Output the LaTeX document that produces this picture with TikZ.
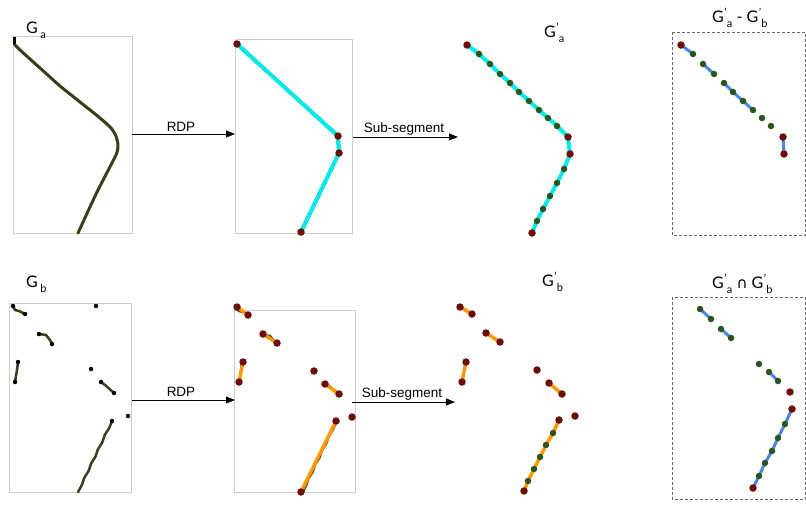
\documentclass[tikz,border=0pt]{standalone}
\usepackage{fontspec}
\setmainfont{Liberation Sans}
\newfontfamily\gfont{Lato}
\newfontfamily\djv{DejaVu Sans}
\usetikzlibrary{arrows.meta}
\definecolor{dred}{RGB}{105,15,8}
\definecolor{dgreen}{RGB}{42,85,28}
\definecolor{olivec}{RGB}{58,62,26}
\definecolor{cyanl}{RGB}{0,235,235}
\definecolor{orng}{RGB}{255,153,0}
\definecolor{blu}{RGB}{74,134,232}
\definecolor{boxgray}{RGB}{205,205,205}
\newcommand{\Gn}[1]{G\kern2.5pt\raisebox{-5pt}{\fontsize{11}{11}\selectfont #1}}
\newcommand{\Gp}[1]{G\kern0.6pt\rlap{\raisebox{6pt}{\fontsize{11}{11}\selectfont ’}}\kern2.5pt\raisebox{-5pt}{\fontsize{11}{11}\selectfont #1}}
\tikzset{
  panelbox/.style={draw=boxgray, line width=0.8pt},
  dashbox/.style={draw=black!60, line width=0.8pt, dash pattern=on 3pt off 2pt},
  rdot/.style={circle, fill=dred, inner sep=0pt, minimum size=7.5pt},
  gdot/.style={circle, fill=dgreen, inner sep=0pt, minimum size=6.5pt},
  bdot/.style={circle, fill=black, inner sep=0pt, minimum size=4.5pt},
  curve/.style={draw=olivec, line width=3pt, line cap=round, line join=round},
  cyanline/.style={draw=cyanl, line width=4pt},
  orline/.style={draw=orng, line width=3.5pt},
  blline/.style={draw=blu, line width=3pt},
  arr/.style={draw=black, line width=1pt, -{Triangle[length=9pt,width=7pt]}},
  glabel/.style={font=\gfont\fontsize{16}{18}\selectfont, anchor=base west, inner sep=0pt},
  alabel/.style={font=\fontsize{13.5}{15}\selectfont, anchor=base, inner sep=0pt}
}
\begin{document}
\begin{tikzpicture}[x=1pt,y=-1pt]
\useasboundingbox (0,0) rectangle (806,504);
% ---------- top row ----------
\draw[panelbox] (13,36) rectangle (132,233);
\draw[panelbox] (235,39) rectangle (352,233);
\draw[dashbox] (672,32) rectangle (805.5,235);
\node[glabel] (la) at (26,33) {\Gn{a}};
\node[glabel] (lpa) at (544,37) {\Gp{a}};
\node[glabel] (ldiff) at (712,22) {\Gp{a} - \Gp{b}};
% original curve
\draw[line width=2.5pt, black] (14.5,37) -- (14.5,45);
\draw[curve] plot[smooth, tension=0.35] coordinates {(15,45) (20,50) (40,68) (60,86) (80,102) (100,118) (111,128) (116,136) (118,145) (116,155) (97,192) (78,233)};
% RDP result
\foreach \n/\x/\y in {p2a/237/44, p2b/338/136, p2c/339/153, p2d/301/232}
  \coordinate (\n) at (\x,\y);
\begin{scope}[shift={(1.3,-0.9)}]
\draw[curve, line width=3.5pt, rounded corners=3pt] (p2a) -- (p2b) -- (p2c) -- (p2d);
\end{scope}
\draw[cyanline] (p2a) -- (p2b) -- (p2c) -- (p2d);
\foreach \n in {p2a,p2b,p2c,p2d} \node[rdot] (d\n) at (\n) {};
% arrows top
\coordinate (a1s) at (132,134); \coordinate (a1e) at (235,134);
\draw[arr] (a1s) -- (a1e);
\node[alabel] (t1) at (181,131) {RDP};
\coordinate (a2s) at (353,137); \coordinate (a2e) at (458,137);
\draw[arr] (a2s) -- (a2e);
\node[alabel] (t2) at (404,132) {Sub-segment};
% sub-segmented G'_a
\foreach \n/\x/\y in {q1/467/45, q2/479/54, q3/490/64, q4/500/74, q5/510/83, q6/519/92, q7/529/101, q8/539/110, q9/548/118, q10/557/126, q11/568/137, q12/570/154, q13/564/169, q14/557/183, q15/550/196, q16/543/209, q17/537/221, q18/532/233}
  \coordinate (\n) at (\x,\y);
\draw[cyanline] (q1) \foreach \i in {2,...,18} { -- (q\i) };
\foreach \i in {1,11,12,18} \node[rdot] (dq\i) at (q\i) {};
\foreach \i in {2,...,10,13,14,15,16,17} \node[gdot] (dq\i) at (q\i) {};
% difference panel
\foreach \n/\x/\y in {r1/681/45, r2/693/54, r3/703/64, r4/714/74, r5/724/83, r6/733/92, r7/743/101, r8/753/110, r9/762/118, r10/771/126, r11/783/137, r12/784/154}
  \coordinate (\n) at (\x,\y);
\draw[blline] (r1) -- (r2);
\draw[blline] (r3) -- (r4);
\draw[blline] (r5) -- (r6) -- (r7) -- (r8);
\draw[blline] (r11) -- (r12);
\foreach \i in {1,11,12} \node[rdot] (dr\i) at (r\i) {};
\foreach \i in {2,...,10} \node[gdot] (dr\i) at (r\i) {};
% ---------- bottom row ----------
\draw[panelbox] (9,303) rectangle (131,492);
\draw[panelbox] (234,310) rectangle (355,492);
\draw[dashbox] (672,297) rectangle (805.5,499);
\node[glabel] (lb) at (26,287) {\Gn{b}};
\node[glabel] (lpb) at (542,286) {\Gp{b}};
\node[glabel] (linter) at (712,288) {\Gp{a} {\djv\fontsize{15}{17}\selectfont ∩} \Gp{b}};
% original fragments
\draw[curve, line width=2.5pt] (13,306) -- (15,310) -- (19,311) -- (25,314);
\draw[curve, line width=2.5pt] (39,334) -- (46,335) -- (50,340) -- (52,344);
\draw[curve, line width=2.5pt] (18,362) -- (17,370) -- (15,382);
\draw[curve, line width=2.5pt] (101,382) -- (105,385) -- (114,393);
\draw[curve, line width=2.5pt] plot[smooth, tension=0.3] coordinates {(112,421) (109,428.3) (104.8,435) (102.2,442.5) (98,449.2) (95.4,456.7) (91.2,463.4) (88.6,470.9) (84.4,477.6) (81.8,485.1) (78,492)};
\foreach \n/\x/\y in {b1/13/306, b2/25/314, b3/39/334, b4/52/344, b5/18/362, b6/15/382, b7/101/382, b8/114/393, b9/112/421, b10/96/306, b11/91/369, b12/128/416}
  \node[bdot] (\n) at (\x,\y) {};
% RDP result bottom
\begin{scope}[shift={(224,1)}]
\draw[curve, line width=2.5pt] (13,306) -- (15,310) -- (19,311) -- (25,314);
\draw[curve, line width=2.5pt] (39,334) -- (46,335) -- (50,340) -- (52,344);
\draw[curve, line width=2.5pt] (18,362) -- (17,370) -- (15,382);
\draw[curve, line width=2.5pt] (101,382) -- (105,385) -- (114,393);
\draw[curve, line width=2.5pt] plot[smooth, tension=0.3] coordinates {(112,421) (109,428.3) (104.8,435) (102.2,442.5) (98,449.2) (95.4,456.7) (91.2,463.4) (88.6,470.9) (84.4,477.6) (81.8,485.1) (78,492)};
\end{scope}
\foreach \n/\x/\y in {s1/237/307, s2/248/315, s3/263/334, s4/277/343, s5/243/362, s6/239/382, s7/314/371, s8/325/384, s9/339/394, s10/352/417, s11/336/421, s12/301/492}
  \coordinate (\n) at (\x,\y);
\draw[orline] (s1) -- (s2);
\draw[orline] (s3) -- (s4);
\draw[orline] (s5) -- (s6);
\draw[orline] (s8) -- (s9);
\draw[orline] (s11) -- (s12);
\foreach \i in {1,...,12} \node[rdot] (ds\i) at (s\i) {};
% arrows bottom
\coordinate (a3s) at (132,400); \coordinate (a3e) at (235,400);
\draw[arr] (a3s) -- (a3e);
\node[alabel] (t3) at (181,396) {RDP};
\coordinate (a4s) at (352,402); \coordinate (a4e) at (455,402);
\draw[arr] (a4s) -- (a4e);
\node[alabel] (t4) at (402,397) {Sub-segment};
% sub-segmented G'_b
\foreach \n/\x/\y in {u1/460/307, u2/472/314, u3/486/333, u4/500/342, u5/466/362, u6/462/382, u7/537/370, u8/549/383, u9/562/394, u10/575/416, u11/559/420, u12/553/433, u13/546/445, u14/540/457, u15/534/469, u16/528/481, u17/524/491}
  \coordinate (\n) at (\x,\y);
\draw[orline] (u1) -- (u2);
\draw[orline] (u3) -- (u4);
\draw[orline] (u5) -- (u6);
\draw[orline] (u8) -- (u9);
\draw[orline] (u11) \foreach \i in {12,...,17} { -- (u\i) };
\foreach \i in {1,...,11,17} \node[rdot] (du\i) at (u\i) {};
\foreach \i in {12,...,16} \node[gdot] (du\i) at (u\i) {};
% intersection panel
\foreach \n/\x/\y in {v1/700/309, v2/711/319, v3/721/329, v4/731/338, v5/759/364, v6/769/372, v7/778/381, v8/790/392, v9/792/409, v10/785/424, v11/778/438, v12/772/451, v13/765/463, v14/759/476, v15/753/488}
  \coordinate (\n) at (\x,\y);
\draw[blline] (v1) -- (v2);
\draw[blline] (v3) -- (v4);
\draw[blline] (v6) -- (v7);
\draw[blline] (v9) \foreach \i in {10,...,15} { -- (v\i) };
\foreach \i in {8,9,15} \node[rdot] (dv\i) at (v\i) {};
\foreach \i in {1,...,7,10,11,12,13,14} \node[gdot] (dv\i) at (v\i) {};
\end{tikzpicture}
\end{document}
